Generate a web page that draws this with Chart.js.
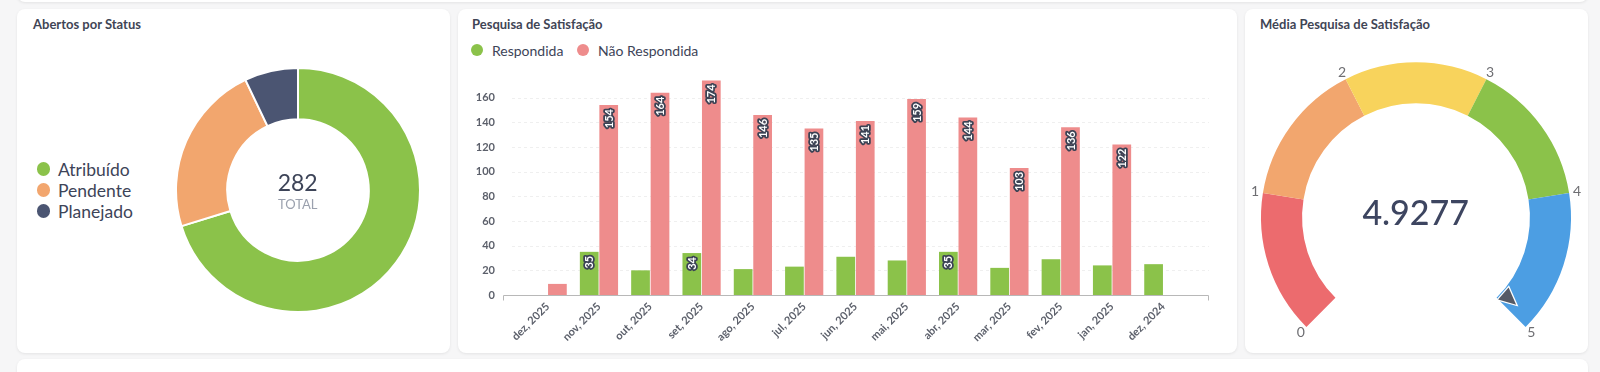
<!DOCTYPE html>
<html>
<head>
<meta charset="utf-8">
<script src="https://cdn.jsdelivr.net/npm/chart.js@4.4.1/dist/chart.umd.min.js"></script>
<style>
  html, body { margin: 0; padding: 0; }
  body {
    width: 1600px; height: 372px; position: relative; overflow: hidden;
    background: #f6f6f7; font-family: Lato, 'Open Sans', sans-serif; color: #3d4458;
  }
  .card { position: absolute; background: #fff; border-radius: 8px; box-shadow: 0 1px 3px rgba(0,0,0,.08); }
  .title { position: absolute; font-size: 13px; font-weight: 700; color: #3f4555; line-height: 16px; white-space: nowrap; }
  .box { position: absolute; }
  .center { position: absolute; transform: translate(-50%, -50%); white-space: nowrap; text-align: center; }
  .lg { position: absolute; display: flex; align-items: center; white-space: nowrap; }
  .lg i { display: inline-block; border-radius: 50%; }
</style>
</head>
<body>

<div class="card" style="left:17px;top:-20px;width:1571px;height:22px"></div>
<div class="card" style="left:17px;top:9px;width:433px;height:344px"></div>
<div class="card" style="left:458px;top:9px;width:779px;height:344px"></div>
<div class="card" style="left:1245px;top:9px;width:343px;height:344px"></div>
<div class="card" style="left:17px;top:359px;width:1571px;height:40px"></div>

<div class="title" style="left:33px;top:16px">Abertos por Status</div>
<div class="title" style="left:472px;top:16px">Pesquisa de Satisfação</div>
<div class="title" style="left:1260px;top:16px">Média Pesquisa de Satisfação</div>

<div id="status-legend"></div>
<div class="box" style="left:174.7px;top:67px;width:246px;height:246px"><canvas id="status-chart"></canvas></div>
<div class="center" style="left:297.7px;top:182px;font-size:23px;color:#3d4458">282</div>
<div class="center" style="left:297.7px;top:204px;font-size:13px;color:#9ba1ae">TOTAL</div>

<div id="survey-legend"></div>
<div class="box" style="left:458px;top:10px;width:779px;height:342px"><canvas id="survey-chart"></canvas></div>

<div class="box" style="left:1235.7px;top:20px;width:360px;height:360px"><canvas id="gauge-chart"></canvas></div>
<div class="center" id="gauge-value" style="left:1415.7px;top:211px;font-size:34px;font-weight:500;color:#3d4560"></div>

<script>
// =============================================
// Dados
// =============================================
// Abertos por Status
const statusLabels = ['Atribuído', 'Pendente', 'Planejado']
const statusValues = [198, 64, 20]
const statusColors = ['#8BC24A', '#F2A66E', '#4B5572']

// Pesquisa de Satisfação
const monthLabels = ['dez, 2025', 'nov, 2025', 'out, 2025', 'set, 2025', 'ago, 2025', 'jul, 2025',
  'jun, 2025', 'mai, 2025', 'abr, 2025', 'mar, 2025', 'fev, 2025', 'jan, 2025', 'dez, 2024']
const respondida    = [0, 35, 20, 34, 21, 23, 31, 28, 35, 22, 29, 24, 25]
const naoRespondida = [9, 154, 164, 174, 146, 135, 141, 159, 144, 103, 136, 122, 0]
const surveySeries  = ['Respondida', 'Não Respondida']
const surveyColors  = ['#8BC24A', '#EE8C8C']
const LABEL_MIN     = 33   // rótulos só aparecem em barras altas o bastante

// Média Pesquisa de Satisfação
const gaugeBands  = [1, 1, 1, 1, 1]
const gaugeTicks  = ['0', '1', '2', '3', '4', '5']
const gaugeColors = ['#EC6B6E', '#F2A66E', '#F8D35C', '#8BC24A', '#4C9EE3']
const gaugeValue  = 4.9277
const gaugeMax    = 5

const FONT = "Lato, 'Open Sans', sans-serif"

// =============================================
// Legendas (HTML)
// =============================================
const statusLegend = document.getElementById('status-legend')
statusLabels.forEach((lbl, i) => {
  const row = document.createElement('div')
  row.className = 'lg'
  row.style.cssText = `left:36.5px;top:${159 + i * 21}px;height:20px;font-size:17.5px;color:#3d4458`
  row.innerHTML = `<i style="width:13.5px;height:13.5px;background:${statusColors[i]};margin-right:8px"></i>${lbl}`
  statusLegend.appendChild(row)
})

const surveyLegend = document.getElementById('survey-legend')
const legendX = [471, 577]
surveySeries.forEach((lbl, i) => {
  const row = document.createElement('div')
  row.className = 'lg'
  row.style.cssText = `left:${legendX[i]}px;top:41px;height:18px;font-size:14px;color:#3d4458`
  row.innerHTML = `<i style="width:12px;height:12px;background:${surveyColors[i]};margin-right:9px"></i>${lbl}`
  surveyLegend.appendChild(row)
})

document.getElementById('gauge-value').textContent = String(gaugeValue)

// =============================================
// Rosca - Abertos por Status
// =============================================
new Chart(document.getElementById('status-chart'), {
  type: 'doughnut',
  data: {
    labels: statusLabels,
    datasets: [{
      data: statusValues,
      backgroundColor: statusColors,
      borderColor: '#fff', borderWidth: 2,
    }]
  },
  options: {
    responsive: true, maintainAspectRatio: false, animation: false,
    cutout: '58%',
    layout: { padding: 0 },
    plugins: { legend: { display: false }, tooltip: { enabled: false } }
  }
})

// =============================================
// Barras - Pesquisa de Satisfação
// =============================================
const surveyExtras = {
  id: 'surveyExtras',
  beforeDatasetsDraw(chart) {
    const { ctx, chartArea: a, scales: { y } } = chart
    ctx.save()
    // grade horizontal tracejada
    ctx.strokeStyle = '#efefef'
    ctx.lineWidth = 1
    ctx.setLineDash([3, 3])
    for (const t of y.ticks) {
      if (t.value <= 0 || t.value > 160) continue
      const py = Math.round(y.getPixelForValue(t.value)) + 0.5
      ctx.beginPath(); ctx.moveTo(a.left - 10, py); ctx.lineTo(a.right + 20, py); ctx.stroke()
    }
    ctx.setLineDash([])
    // linha do eixo x
    const y0 = Math.round(y.getPixelForValue(0)) + 0.5
    const xl = a.left - 19, xr = a.right + 20
    ctx.strokeStyle = '#b8b8b8'
    ctx.beginPath()
    ctx.moveTo(xl + 0.5, y0 + 5); ctx.lineTo(xl + 0.5, y0)
    ctx.lineTo(xr - 0.5, y0); ctx.lineTo(xr - 0.5, y0 + 5)
    ctx.stroke()
    ctx.restore()
  },
  afterDatasetsDraw(chart) {
    const { ctx } = chart
    ctx.save()
    ctx.font = `bold 11px ${FONT}`
    ctx.textAlign = 'right'
    ctx.textBaseline = 'middle'
    ctx.lineJoin = 'round'
    chart.data.datasets.forEach((ds, di) => {
      chart.getDatasetMeta(di).data.forEach((bar, i) => {
        const v = ds.data[i]
        if (v == null || v < LABEL_MIN) return
        ctx.save()
        ctx.translate(bar.x, bar.y + 4)
        ctx.rotate(-Math.PI / 2)
        ctx.lineWidth = 3.5
        ctx.strokeStyle = '#3b4254'
        ctx.strokeText(String(v), 0, 0.5)
        ctx.fillStyle = '#ffffff'
        ctx.fillText(String(v), 0, 0.5)
        ctx.restore()
      })
    })
    ctx.restore()
  }
}

new Chart(document.getElementById('survey-chart'), {
  type: 'bar',
  data: {
    labels: monthLabels,
    datasets: [
      { label: surveySeries[0], data: respondida, backgroundColor: surveyColors[0],
        categoryPercentage: 0.76, barPercentage: 0.96 },
      { label: surveySeries[1], data: naoRespondida, backgroundColor: surveyColors[1],
        categoryPercentage: 0.76, barPercentage: 0.96 },
    ]
  },
  options: {
    responsive: true, maintainAspectRatio: false, animation: false,
    layout: { padding: { top: 63, right: 48, bottom: 0, left: 0 } },
    plugins: { legend: { display: false }, tooltip: { enabled: false } },
    scales: {
      x: {
        offset: true,
        grid: { display: false, drawTicks: false },
        border: { display: false },
        ticks: {
          autoSkip: false, minRotation: 45, maxRotation: 45, padding: 5,
          color: '#5c606b', font: { family: FONT, size: 11, weight: 'bold' }
        },
        afterFit: s => { s.height = 57 }
      },
      y: {
        min: 0, max: 180,
        grid: { display: false, drawTicks: false },
        border: { display: false },
        ticks: {
          stepSize: 20, padding: 27,
          color: '#5c606b', font: { family: FONT, size: 11, weight: 'bold' },
          callback: v => v <= 160 ? v : ''
        },
        afterFit: s => { s.width = 64 }
      }
    }
  },
  plugins: [surveyExtras]
})

// =============================================
// Medidor - Média Pesquisa de Satisfação
// =============================================
const gaugeExtras = {
  id: 'gaugeExtras',
  afterDatasetsDraw(chart) {
    const { ctx } = chart
    const arcs = chart.getDatasetMeta(0).data
    const first = arcs[0], last = arcs[arcs.length - 1]
    const cx = first.x, cy = first.y
    const rOut = first.outerRadius, rIn = first.innerRadius
    const a0 = first.startAngle, a1 = last.endAngle

    ctx.save()
    // rótulos 0..5
    ctx.font = `14px ${FONT}`
    ctx.fillStyle = '#6e6e72'
    ctx.textAlign = 'center'
    ctx.textBaseline = 'middle'
    gaugeTicks.forEach((t, i) => {
      const ang = i < arcs.length ? arcs[i].startAngle : a1
      const r = rOut + 8
      ctx.fillText(t, cx + Math.cos(ang) * r, cy + Math.sin(ang) * r)
    })

    // ponteiro
    const ang = a0 + (a1 - a0) * (gaugeValue / gaugeMax)
    const ux = Math.cos(ang), uy = Math.sin(ang)
    const px = -uy, py = ux
    const rb = rIn + 2, rt = rIn + 19, hw = 8
    ctx.beginPath()
    ctx.moveTo(cx + ux * rb + px * hw, cy + uy * rb + py * hw)
    ctx.lineTo(cx + ux * rt, cy + uy * rt)
    ctx.lineTo(cx + ux * rb - px * hw, cy + uy * rb - py * hw)
    ctx.closePath()
    ctx.fillStyle = '#555a66'
    ctx.strokeStyle = '#ffffff'
    ctx.lineWidth = 2.5
    ctx.lineJoin = 'miter'
    ctx.stroke()
    ctx.fill()
    ctx.restore()
  }
}

new Chart(document.getElementById('gauge-chart'), {
  type: 'doughnut',
  data: {
    labels: gaugeTicks.slice(1),
    datasets: [{ data: gaugeBands, backgroundColor: gaugeColors, borderWidth: 0 }]
  },
  options: {
    responsive: true, maintainAspectRatio: false, animation: false,
    circumference: 270, rotation: -135,
    cutout: '73.5%',
    layout: { padding: { left: 25, right: 25, top: 24.6, bottom: 35.4 } },
    plugins: { legend: { display: false }, tooltip: { enabled: false } }
  },
  plugins: [gaugeExtras]
})
</script>
</body>
</html>
